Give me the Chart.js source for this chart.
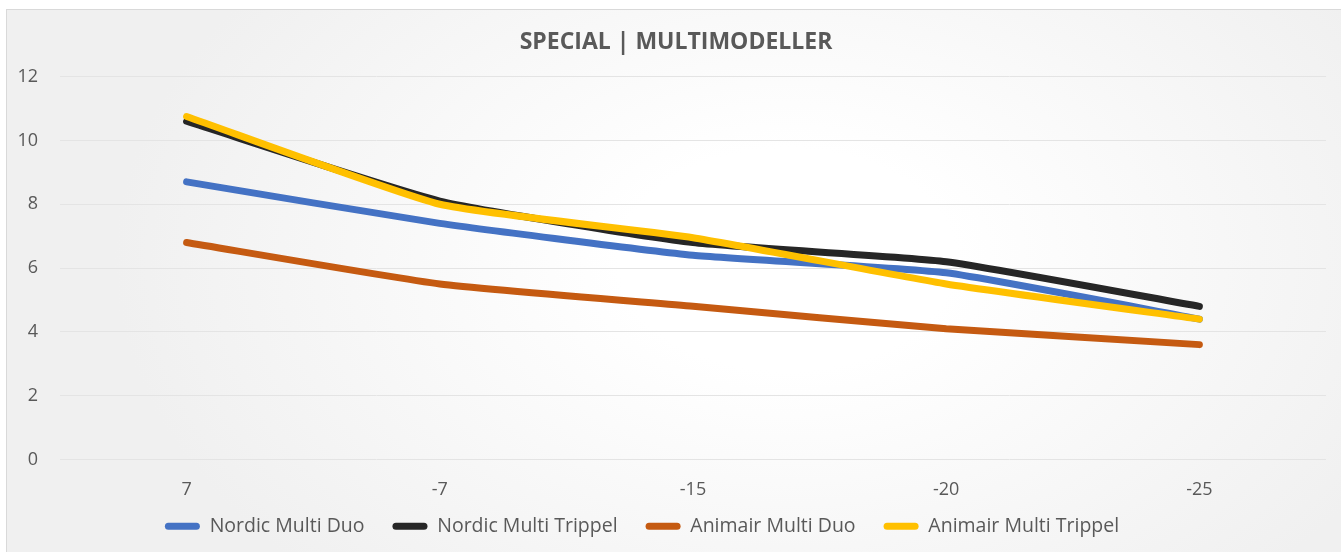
<!DOCTYPE html>
<html>
<head>
<meta charset="utf-8">
<script src="https://cdn.jsdelivr.net/npm/chart.js@4/dist/chart.umd.min.js"></script>
<style>
  body { margin: 0; background: #ffffff; }
  #wrap { position: relative; width: 1341px; height: 552px; overflow: hidden; }
  #bg {
    position: absolute; left: 6px; top: 9px; width: 1345px; height: 555px;
    border: 1px solid #d9d9d9;
    background: radial-gradient(ellipse 50% 80% at 58% 45%, #ffffff 0%, #ffffff 25%, #f0f0f0 100%);
  }
  #chart { position: absolute; left: 0; top: 0; }
</style>
</head>
<body>
<div id="wrap">
  <div id="bg"></div>
  <canvas id="chart" width="1341" height="552"></canvas>
</div>
<script>
// data
const categories = ["7", "-7", "-15", "-20", "-25"];
const seriesNames = ["Nordic Multi Duo", "Nordic Multi Trippel", "Animair Multi Duo", "Animair Multi Trippel"];
const nordicDuo = [8.7, 7.4, 6.4, 5.85, 4.4];
const nordicTrippel = [10.6, 8.1, 6.8, 6.2, 4.8];
const animairDuo = [6.8, 5.5, 4.8, 4.1, 3.6];
const animairTrippel = [10.75, 8.0, 6.95, 5.5, 4.4];
const yTicks = [0, 2, 4, 6, 8, 10, 12];

const colors = ["#4472c4", "#262626", "#c55a11", "#ffc000"];
const textColor = "#595959";
const fontFamily = "'Open Sans', 'DejaVu Sans', sans-serif";

function line(i, values) {
    return {
        label: seriesNames[i],
        data: values,
        borderColor: colors[i],
        backgroundColor: colors[i],
        borderWidth: 7,
        borderCapStyle: "round",
        borderJoinStyle: "round",
        pointRadius: 0,
        tension: 0.15,
        // excel draws later series on top
        order: 3 - i
    };
}

// nudge legend and title a bit, like the excel layout
const nudge = {
    id: "nudge",
    afterLayout(chart) {
        const lg = chart.legend;
        lg.top -= 10; lg.bottom -= 10;
        lg.left -= 21; lg.right -= 21;
        const tb = chart.titleBlock;
        tb.left += 13; tb.right += 13;
    }
};

new Chart(document.getElementById("chart"), {
    type: "line",
    data: {
        labels: categories,
        datasets: [
            line(0, nordicDuo),
            line(1, nordicTrippel),
            line(2, animairDuo),
            line(3, animairTrippel)
        ]
    },
    options: {
        responsive: false,
        animation: false,
        layout: { padding: { top: 0, right: 15, bottom: -4, left: 0 } },
        plugins: {
            title: {
                display: true,
                text: "SPECIAL | MULTIMODELLER",
                color: textColor,
                font: { family: fontFamily, size: 23, weight: "bold" },
                padding: { top: 29, bottom: 20 }
            },
            legend: {
                position: "bottom",
                labels: {
                    color: textColor,
                    font: { family: fontFamily, size: 19.5 },
                    boxWidth: 35,
                    boxHeight: 7,
                    padding: 28,
                    sort: (a, b) => a.datasetIndex - b.datasetIndex,
                    generateLabels: chart => {
                        const items = Chart.defaults.plugins.legend.labels.generateLabels(chart);
                        items.forEach(it => {
                            it.lineWidth = 0;
                            it.borderRadius = 3.5;
                        });
                        return items;
                    }
                }
            },
            tooltip: { enabled: false }
        },
        scales: {
            x: {
                offset: true,
                grid: { display: false, drawTicks: false },
                border: { display: false },
                ticks: { color: textColor, font: { family: fontFamily, size: 18, lineHeight: 1 }, padding: 21 },
                afterFit: s => { s.height = 39; }
            },
            y: {
                min: 0,
                max: 12,
                afterBuildTicks: s => { s.ticks = yTicks.map(v => ({ value: v })); },
                grid: { color: "#e4e4e4", lineWidth: 1, drawTicks: false },
                border: { display: false },
                ticks: { color: textColor, font: { family: fontFamily, size: 18 }, padding: 22 },
                afterFit: s => { s.width = 60; }
            }
        }
    },
    plugins: [nudge]
});
</script>
</body>
</html>
